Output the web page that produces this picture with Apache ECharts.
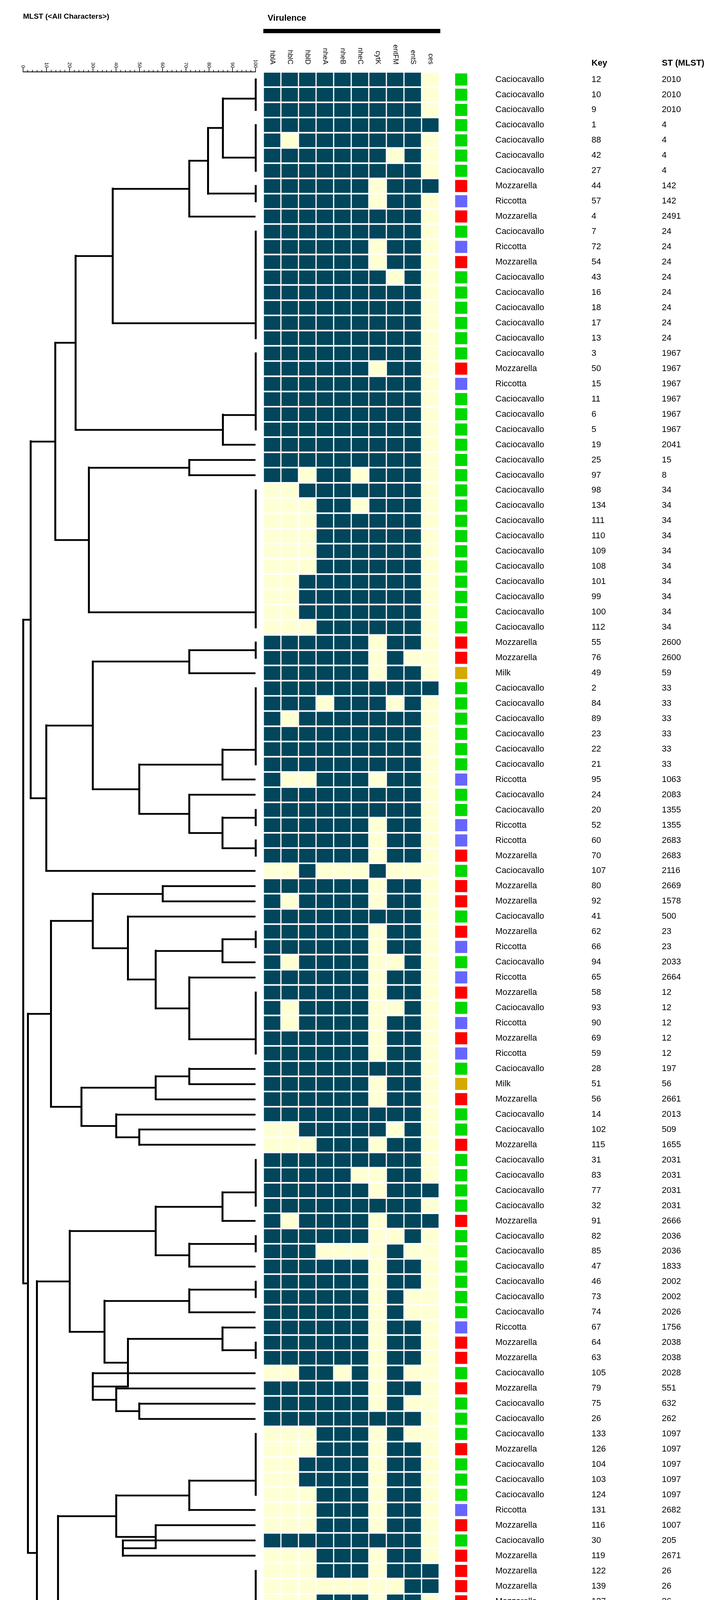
<!DOCTYPE html>
<html><head><meta charset="utf-8">
<script src="https://cdn.jsdelivr.net/npm/echarts/dist/echarts.min.js"></script>
<style>html,body{margin:0;padding:0;background:#fff}#chart{width:1825px;height:5630px}</style>
</head><body><div id="chart"></div>
<script>
// ---------------- data ----------------
const genes = ['hblA','hblC','hblD','nheA','nheB','nheC','cytK','entFM','entS','ces'];
const sources = [
'Caciocavallo','Caciocavallo','Caciocavallo','Caciocavallo','Caciocavallo','Caciocavallo','Caciocavallo','Mozzarella','Riccotta','Mozzarella',
'Caciocavallo','Riccotta','Mozzarella','Caciocavallo','Caciocavallo','Caciocavallo','Caciocavallo','Caciocavallo','Caciocavallo','Mozzarella',
'Riccotta','Caciocavallo','Caciocavallo','Caciocavallo','Caciocavallo','Caciocavallo','Caciocavallo','Caciocavallo','Caciocavallo','Caciocavallo',
'Caciocavallo','Caciocavallo','Caciocavallo','Caciocavallo','Caciocavallo','Caciocavallo','Caciocavallo','Mozzarella','Mozzarella','Milk',
'Caciocavallo','Caciocavallo','Caciocavallo','Caciocavallo','Caciocavallo','Caciocavallo','Riccotta','Caciocavallo','Caciocavallo','Riccotta',
'Riccotta','Mozzarella','Caciocavallo','Mozzarella','Mozzarella','Caciocavallo','Mozzarella','Riccotta','Caciocavallo','Riccotta',
'Mozzarella','Caciocavallo','Riccotta','Mozzarella','Riccotta','Caciocavallo','Milk','Mozzarella','Caciocavallo','Caciocavallo',
'Mozzarella','Caciocavallo','Caciocavallo','Caciocavallo','Caciocavallo','Mozzarella','Caciocavallo','Caciocavallo','Caciocavallo','Caciocavallo',
'Caciocavallo','Caciocavallo','Riccotta','Mozzarella','Mozzarella','Caciocavallo','Mozzarella','Caciocavallo','Caciocavallo','Caciocavallo',
'Mozzarella','Caciocavallo','Caciocavallo','Caciocavallo','Riccotta','Mozzarella','Caciocavallo','Mozzarella','Mozzarella','Mozzarella',
'Mozzarella','Caciocavallo','Riccotta','Caciocavallo','Caciocavallo','Caciocavallo','Caciocavallo','Caciocavallo','Mozzarella','Mozzarella',
'Caciocavallo','Riccotta','Mozzarella','Caciocavallo','Mozzarella','Milk','Mozzarella','Milk','Riccotta','Caciocavallo',
'Caciocavallo','Mozzarella','Caciocavallo','Mozzarella','Mozzarella','Caciocavallo','Mozzarella','Caciocavallo','Caciocavallo','Caciocavallo',
'Caciocavallo','Caciocavallo','Caciocavallo','Caciocavallo','Caciocavallo','Mozzarella','Mozzarella','Riccotta','Mozzarella'];
const keys = [12,10,9,1,88,42,27,44,57,4, 7,72,54,43,16,18,17,13,3,50, 15,11,6,5,19,25,97,98,134,111,
 110,109,108,101,99,100,112,55,76,49, 2,84,89,23,22,21,95,24,20,52, 60,70,107,80,92,41,62,66,94,65,
 58,93,90,69,59,28,51,56,14,102, 115,31,83,77,32,91,82,85,47,46, 73,74,67,64,63,105,79,75,26,133,
 126,104,103,124,131,116,30,119,122,139, 127,123,125,130,138,106,137,117,120,118, 135,114,129,29,113,68,81,78,121,87,
 136,71,8,48,61,96,86,40,39,38, 37,36,35,34,33,132,53,128,45];
const stTypes = [2010,2010,2010,4,4,4,4,142,142,2491, 24,24,24,24,24,24,24,24,1967,1967,
 1967,1967,1967,1967,2041,15,8,34,34,34, 34,34,34,34,34,34,34,2600,2600,59,
 33,33,33,33,33,33,1063,2083,1355,1355, 2683,2683,2116,2669,1578,500,23,23,2033,2664,
 12,12,12,12,12,197,56,2661,2013,509, 1655,2031,2031,2031,2031,2666,2036,2036,1833,2002,
 2002,2026,1756,2038,2038,2028,551,632,262,1097, 1097,1097,1097,1097,2682,1007,205,2671,26,26,
 26,26,164,371,2082,2002,2002,92,92,92, 996,120,2670,2095,1420,1665,2261,1810,1223,2084,
 1263,562,800,278,818,1986,1986,1986,1986,1986, 1986,1986,1986,1986,1986,369,414,2675,2667];
// presence (1) / absence (0) of each gene, one string per isolate, genes in the order above
const profiles = [
'1111111110','1111111110','1111111110','1111111111','1011111110','1111111010','1111111110','1111110111','1111110110','1111111110',
'1111111110','1111110110','1111110110','1111111010','1111111110','1111111110','1111111110','1111111110','1111111110','1111110110',
'1111111110','1111111110','1111111110','1111111110','1111111110','1111111110','1101101110','0011111110','0001101110','0001111110',
'0001111110','0001111110','0001111110','0011111110','0011111110','0011111110','0001111110','1111110110','1111110100','1111110110',
'1111111111','1110111010','1011111110','1111111110','1111111110','1111111110','1001110110','1111111110','1111111110','1111110110',
'1111110110','1111110110','0010001000','1111110110','1011110110','1111111110','1111110110','1111110110','1011110010','1111110110',
'1111110110','1011110010','1011110110','1111110110','1111110110','1111111110','1111110110','1111110110','1111111110','0011111010',
'0001110110','1111111110','1111100110','1111110111','1111111110','1011110111','1111110010','1110000100','1111110110','1111110110',
'1111110100','1111110100','1111110110','1111110110','1111110110','0011010100','1111110110','1111110100','1111111110','0001110100',
'0001110110','0011110110','0011110110','0001110110','0001110110','0001110110','1111111110','0001110110','0001110111','0000000011',
'0001110110','0001110111','0001110110','0001110110','0000110110','0010110111','0000110110','0001110110','0001110110','0001110110',
'0001100110','0001110110','0001110110','1111111110','0001110110','1111110110','1111110110','1111110110','0001110110','0111010110',
'0001100110','1111110110','1111111110','1111110110','1111110110','0111111111','1101111110','1111111110','1111111110','1111111110',
'1111111110','1111111110','1111111110','1111111110','1111111110','0001110110','1111110110','0001110110','1111110111'];
const sourceColors = {Caciocavallo:'#00D700', Mozzarella:'#FF0000', Riccotta:'#6666FF', Milk:'#D4AA00'};
// UPGMA-style tree: [similarity %, child, child, ...]; a number is a leaf (row, 1-based)
const yTop1 = [22.6,
  [38.5, [71.4, [79.5, [85.9, [100,1,2,3], [100,4,5,6,7]], [100,8,9]], 10], [100,11,12,13,14,15,16,17,18]],
  [85.9, [100,19,20,21,22,23,24], 25]];
const yTop2 = [28.3, [71.4, 26, 27], [100,28,29,30,31,32,33,34,35,36,37]];
const yMid = [10, [30, [71.4,[100,38,39],40], [50,[85.7,[100,41,42,43,44,45,46],47],[71.4,48,[85.7,[100,49,50],[100,51,52]]]]], 53];
const yLow1 = [12, [30, [60,54,55], [45,56,[57,[85.7,[100,57,58],59],[71.4,60,[100,61,62,63,64,65]]]]], [25,[57,[71.4,66,67],68],[40,69,[50,70,71]]]];
const yLow2 = [6,
  [20, [57,[85.7,[100,72,73,74,75],76],[71.4,[100,77,78],79]], [35,[71.4,[100,80,81],82],[45,[85.7,83,[100,84,85]],[30,86,[40,87,[50,88,89]]]]]],
  [10,
    [15,
      [40,[71.4,[100,90,91,92,93,94],95],[57,96,[42.9,97,98]]],
      [20,
        [57,[85.7,[100,99,100,101,102],103],[42.9,104,[100,105,106,107]]],
        [25,[71.4,[100,108,109,110],111],[30,[57,112,113],[35,[50,114,115],[40,[57,116,117],[45,118,[57,119,[57,120,121]]]]]]]]],
    [18,[30,[57,122,123],[57,124,125]],[28,[100,126,127,128,129,130,131,132,133,134,135],[40,[57,136,137],[50,138,139]]]]]];
const tree = [0, [3.2, [13.8, yTop1, yTop2], yMid], [2, yLow1, yLow2]];

// ---------------- build ----------------
const N = sources.length;
const ROW = 38.96, TOP = 184, H = ROW * N;
const FONT = '"Liberation Sans", Arial, Helvetica, sans-serif';
const segs = [];
function layout(node) {
  if (typeof node === 'number') return {x: 100, y: node};
  const sim = node[0];
  const kids = node.slice(1).map(layout);
  kids.forEach(k => { if (k.x !== sim) segs.push({h: true, c: [[sim, k.y], [k.x, k.y]]}); });
  const ys = kids.map(k => k.y);
  segs.push({h: false, c: [[sim, Math.min(...ys)], [sim, Math.max(...ys)]]});
  let yc = ys[0];
  for (let i = 1; i < ys.length; i++) yc = (yc + ys[i]) / 2;
  return {x: sim, y: yc};
}
layout(tree);

const rowCats = sources.map((_, i) => String(i + 1));
const present = [], absent = [];
profiles.forEach((p, r) => p.split('').forEach((c, g) => (c === '1' ? present : absent).push([g, r])));

const gridBase = {top: TOP, height: H, outerBoundsMode: 'none', containLabel: false};
const hiddenCat = (gi) => ({type: 'category', gridIndex: gi, data: ['c'], show: false});
const textAxis = (gi, data) => ({
  type: 'category', gridIndex: gi, data: data.map(String), inverse: true, position: 'right',
  axisLine: {show: false}, axisTick: {show: false},
  axisLabel: {show: true, interval: 0, margin: 0, fontSize: 22, color: '#000', fontFamily: FONT}
});
const rowAxis = (gi) => ({type: 'category', gridIndex: gi, data: rowCats, inverse: true, show: false});

const option = {
  animation: false,
  backgroundColor: '#fff',
  title: [
    {text: 'MLST (<All Characters>)', left: 59, top: 33, padding: 0, textStyle: {fontSize: 19, fontWeight: 'bold', color: '#000', fontFamily: FONT}},
    {text: 'Virulence', left: 685, top: 36, padding: 0, textStyle: {fontSize: 22, fontWeight: 'bold', color: '#000', fontFamily: FONT}},
    {text: 'Key', left: 1514, top: 151, padding: 0, textStyle: {fontSize: 22, fontWeight: 'bold', color: '#000', fontFamily: FONT}},
    {text: 'ST (MLST)', left: 1694, top: 151, padding: 0, textStyle: {fontSize: 22, fontWeight: 'bold', color: '#000', fontFamily: FONT}}
  ],
  graphic: [{type: 'rect', left: 674, top: 74, shape: {width: 453, height: 11}, style: {fill: '#000'}, silent: true}],
  grid: [
    Object.assign({left: 59, width: 595}, gridBase),
    Object.assign({left: 674, width: 450}, gridBase),
    Object.assign({left: 1165, width: 31}, gridBase),
    Object.assign({left: 1262, width: 6}, gridBase),
    Object.assign({left: 1508, width: 6}, gridBase),
    Object.assign({left: 1688, width: 6}, gridBase)
  ],
  xAxis: [
    {type: 'value', gridIndex: 0, min: 0, max: 100, interval: 10, position: 'top',
     axisLine: {show: true, lineStyle: {color: '#000', width: 2}},
     axisTick: {show: true, length: 10, lineStyle: {color: '#000', width: 1.6}},
     minorTick: {show: true, splitNumber: 5, length: 5, lineStyle: {color: '#000', width: 1.6}},
     splitLine: {show: false}, minorSplitLine: {show: false},
     axisLabel: {rotate: 90, fontSize: 13, margin: 10, color: '#000', fontFamily: FONT, padding: [0, 0, 0, 0]}},
    {type: 'category', gridIndex: 1, data: genes, position: 'top',
     axisLine: {show: false}, axisTick: {show: false},
     axisLabel: {rotate: 90, interval: 0, margin: 19, fontSize: 18, color: '#000', fontFamily: FONT}},
    hiddenCat(2), hiddenCat(3), hiddenCat(4), hiddenCat(5)
  ],
  yAxis: [
    {type: 'value', gridIndex: 0, min: 0.5, max: N + 0.5, inverse: true, show: false},
    rowAxis(1), rowAxis(2),
    textAxis(3, sources), textAxis(4, keys), textAxis(5, stTypes)
  ],
  series: [
    {type: 'lines', coordinateSystem: 'cartesian2d', xAxisIndex: 0, yAxisIndex: 0, silent: true, clip: false,
     lineStyle: {color: '#000', opacity: 1},
     data: segs.map(s => ({coords: s.c, lineStyle: {width: s.h ? 4.6 : 5, cap: s.h ? 'butt' : 'square', color: '#000'}}))},
    {type: 'scatter', xAxisIndex: 1, yAxisIndex: 1, symbol: 'rect', symbolSize: [42, 35], silent: true,
     itemStyle: {color: '#02465C', opacity: 1}, data: present},
    {type: 'scatter', xAxisIndex: 1, yAxisIndex: 1, symbol: 'rect', symbolSize: [42, 35], silent: true,
     itemStyle: {color: '#FFFFD4', opacity: 1}, data: absent},
    {type: 'scatter', xAxisIndex: 2, yAxisIndex: 2, symbol: 'rect', symbolSize: [31, 31], silent: true,
     data: sources.map((s, i) => ({value: [0, i], itemStyle: {color: sourceColors[s], opacity: 1}}))},
    {type: 'scatter', xAxisIndex: 3, yAxisIndex: 3, symbolSize: 0, silent: true, data: sources.map((s, i) => [0, i])},
    {type: 'scatter', xAxisIndex: 4, yAxisIndex: 4, symbolSize: 0, silent: true, data: sources.map((s, i) => [0, i])},
    {type: 'scatter', xAxisIndex: 5, yAxisIndex: 5, symbolSize: 0, silent: true, data: sources.map((s, i) => [0, i])}
  ]
};
const chart = echarts.init(document.getElementById('chart'));
chart.setOption(option);
</script>
</body></html>
